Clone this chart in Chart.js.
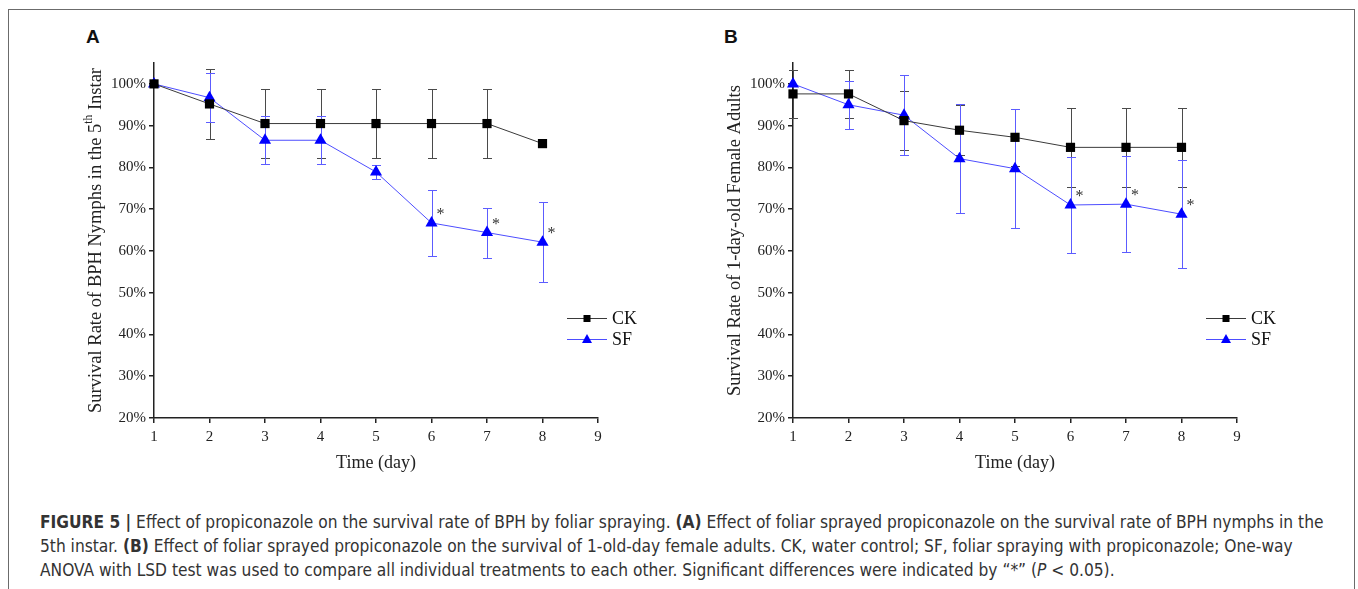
<!DOCTYPE html>
<html>
<head>
<meta charset="utf-8">
<script src="https://cdn.jsdelivr.net/npm/chart.js@4.4.1/dist/chart.umd.min.js"></script>
<style>
html, body { margin: 0; padding: 0; background: #fff; }
body { width: 1358px; height: 589px; position: relative; overflow: hidden; }
.frame { position: absolute; left: 8px; top: 9px; width: 1345px; height: 620px; border: 1.5px solid #6b6b6b; }
.panel { position: absolute; top: 0; width: 600px; height: 500px; }
.tag { position: absolute; top: 26px; font: bold 19px "Liberation Sans", Arial, sans-serif; color: #111; }
.caption { position: absolute; left: 40px; top: 510px; font-family: "DejaVu Sans Condensed", "Liberation Sans", sans-serif; font-size: 16px; line-height: 24px; color: #333; white-space: nowrap; }
.caption span { display: inline-block; }
</style>
</head>
<body>
<div class="frame"></div>
<div class="tag" style="left:86px">A</div>
<div class="tag" style="left:724px">B</div>
<div class="panel" style="left:40px"><canvas id="chartA" width="600" height="500"></canvas></div>
<div class="panel" style="left:680px"><canvas id="chartB" width="600" height="500"></canvas></div>
<div class="caption">
<span id="line1"><b>FIGURE 5 |</b> Effect of propiconazole on the survival rate of BPH by foliar spraying. <b>(A)</b> Effect of foliar sprayed propiconazole on the survival rate of BPH nymphs in the</span><br>
<span>5th instar. <b>(B)</b> Effect of foliar sprayed propiconazole on the survival of 1-old-day female adults. CK, water control; SF, foliar spraying with propiconazole; One-way</span><br>
<span>ANOVA with LSD test was used to compare all individual treatments to each other. Significant differences were indicated by “*” (<i>P</i> &lt; 0.05).</span>
</div>
<script>
// time points and axis ticks
const days = [1, 2, 3, 4, 5, 6, 7, 8];
const xTicks = [1, 2, 3, 4, 5, 6, 7, 8, 9];
const yTicks = [20, 30, 40, 50, 60, 70, 80, 90, 100];

// panel A: nymphs in the 5th instar (survival %, +/- error)
const ckA = [100, 95.2, 90.5, 90.5, 90.5, 90.5, 90.5, 85.7];
const ckAErr = [0, 8.3, 8.2, 8.2, 8.2, 8.2, 8.2, 0];
const sfA = [100, 96.7, 86.5, 86.5, 78.9, 66.7, 64.4, 62.1];
const sfAErr = [0, 5.9, 5.8, 5.8, 1.6, 7.9, 6.0, 9.6];
const sigA = [false, false, false, false, false, true, true, true];

// panel B: 1-day-old female adults
const ckB = [97.6, 97.6, 91.2, 88.9, 87.2, 84.8, 84.8, 84.8];
const ckBErr = [5.8, 5.8, 7.0, 6.0, 6.8, 9.4, 9.5, 9.5];
const sfB = [100, 95.0, 92.5, 82.1, 79.7, 71.0, 71.2, 68.8];
const sfBErr = [0, 5.8, 9.6, 13.0, 14.3, 11.6, 11.5, 13.0];
const sigB = [false, false, false, false, false, true, true, true];

const serif = '"Liberation Serif", "Times New Roman", serif';

// size the caption so its first line spans the figure width
(function() {
    var cap = document.querySelector('.caption');
    var w = document.getElementById('line1').getBoundingClientRect().width;
    cap.style.fontSize = (16 * 1285 / w) + 'px';
})();

// vertical error bars with caps, drawn under the lines
const errorBars = {
    id: 'errorBars',
    beforeDatasetsDraw(chart) {
        const ctx = chart.ctx, xs = chart.scales.x, ys = chart.scales.y;
        chart.data.datasets.forEach(function(ds) {
            ctx.save();
            ctx.strokeStyle = ds.errColor;
            ctx.lineWidth = 1;
            ds.data.forEach(function(p, i) {
                var e = ds.err[i];
                if (!e) return;
                var x = Math.round(xs.getPixelForValue(p.x)) + 0.5;
                var y1 = Math.round(ys.getPixelForValue(p.y + e)) + 0.5;
                var y2 = Math.round(ys.getPixelForValue(p.y - e)) + 0.5;
                ctx.beginPath();
                ctx.moveTo(x, y1); ctx.lineTo(x, y2);
                ctx.moveTo(x - 4.5, y1); ctx.lineTo(x + 4.5, y1);
                ctx.moveTo(x - 4.5, y2); ctx.lineTo(x + 4.5, y2);
                ctx.stroke();
            });
            ctx.restore();
        });
    }
};

// asterisks next to significant points
const stars = {
    id: 'stars',
    afterDatasetsDraw(chart) {
        const ctx = chart.ctx, xs = chart.scales.x, ys = chart.scales.y;
        chart.data.datasets.forEach(function(ds) {
            if (!ds.sig) return;
            ctx.save();
            ctx.fillStyle = '#333';
            ctx.font = '16px ' + serif;
            ctx.textAlign = 'left';
            ctx.textBaseline = 'middle';
            ds.data.forEach(function(p, i) {
                if (!ds.sig[i]) return;
                ctx.fillText('*', xs.getPixelForValue(p.x) + 5, ys.getPixelForValue(p.y) - 8);
            });
            ctx.restore();
        });
    }
};

// line + marker legend inside the plot
const sampleLegend = {
    id: 'sampleLegend',
    afterDraw(chart) {
        const ctx = chart.ctx, area = chart.chartArea;
        const x0 = area.left + 413;
        chart.data.datasets.forEach(function(ds, i) {
            var y = area.top + 255 + i * 21;
            ctx.save();
            ctx.strokeStyle = ds.borderColor;
            ctx.lineWidth = 1;
            ctx.beginPath();
            ctx.moveTo(x0, y + 0.5); ctx.lineTo(x0 + 40, y + 0.5);
            ctx.stroke();
            ctx.fillStyle = ds.pointBackgroundColor;
            var mx = x0 + 20;
            if (ds.pointStyle === 'rect') {
                ctx.fillRect(mx - 3.5, y - 3, 7, 7);
            } else {
                ctx.beginPath();
                ctx.moveTo(mx, y - 5);
                ctx.lineTo(mx + 5, y + 4);
                ctx.lineTo(mx - 5, y + 4);
                ctx.closePath();
                ctx.fill();
            }
            ctx.fillStyle = '#111';
            ctx.font = '18px ' + serif;
            ctx.textBaseline = 'middle';
            ctx.fillText(ds.label, x0 + 45, y + 1);
            ctx.restore();
        });
    }
};

// rotated y title with optional superscript part
const yTitle = {
    id: 'yTitle',
    afterDraw(chart, args, opts) {
        const ctx = chart.ctx, area = chart.chartArea;
        ctx.save();
        ctx.translate(opts.x, (area.top + area.bottom) / 2);
        ctx.rotate(-Math.PI / 2);
        ctx.fillStyle = '#222';
        ctx.textBaseline = 'middle';
        var total = 0;
        opts.parts.forEach(function(p) {
            ctx.font = (p.sup ? '11.5px ' : '18.5px ') + serif;
            total += ctx.measureText(p.t).width;
        });
        var x = -total / 2;
        opts.parts.forEach(function(p) {
            ctx.font = (p.sup ? '11.5px ' : '18.5px ') + serif;
            ctx.fillText(p.t, x, p.sup ? -6 : 1);
            x += ctx.measureText(p.t).width;
        });
        ctx.restore();
    }
};

function axisStyle() {
    return {
        grid: { display: true, drawOnChartArea: false, drawTicks: true, tickLength: 5, color: '#222', lineWidth: 1.5 },
        border: { display: true, color: '#222', width: 1.5 }
    };
}

function makeChart(id, ck, ckErr, sf, sfErr, sig, titleParts, yWidth, titleX) {
    var xAxis = Object.assign(axisStyle(), {
        type: 'linear', min: 1, max: 9,
        afterBuildTicks: function(s) { s.ticks = xTicks.map(function(v) { return { value: v }; }); },
        afterFit: function(s) { s.height = 82; },
        ticks: { color: '#222', padding: 5, font: { family: serif, size: 15 } },
        title: { display: true, text: 'Time (day)', color: '#222', font: { family: serif, size: 18 }, padding: { top: 0, bottom: 26 } }
    });
    var yAxis = Object.assign(axisStyle(), {
        min: 20, max: 105,
        afterBuildTicks: function(s) { s.ticks = yTicks.map(function(v) { return { value: v }; }); },
        afterFit: function(s) { s.width = yWidth; },
        ticks: { color: '#222', padding: 3, font: { family: serif, size: 15 }, callback: function(v) { return v + '%'; } }
    });
    return new Chart(document.getElementById(id), {
        type: 'line',
        data: {
            datasets: [{
                label: 'CK',
                data: days.map(function(d, i) { return { x: d, y: ck[i] }; }),
                err: ckErr,
                errColor: '#4a4a4a',
                borderColor: '#3a3a3a',
                borderWidth: 1,
                pointStyle: 'rect',
                pointRadius: 6.5,
                pointBackgroundColor: '#000',
                pointBorderWidth: 0,
                clip: false
            }, {
                label: 'SF',
                data: days.map(function(d, i) { return { x: d, y: sf[i] }; }),
                err: sfErr,
                sig: sig,
                errColor: '#5c5cff',
                borderColor: '#4d4dff',
                borderWidth: 1,
                pointStyle: 'triangle',
                pointRadius: 7,
                pointBackgroundColor: '#0000ff',
                pointBorderWidth: 0,
                clip: false
            }]
        },
        options: {
            responsive: false,
            animation: false,
            devicePixelRatio: 1,
            events: [],
            layout: { padding: { left: 0, right: 600 - yWidth - 444, top: 63, bottom: 0 } },
            scales: { x: xAxis, y: yAxis },
            plugins: {
                legend: { display: false },
                tooltip: { enabled: false },
                yTitle: { x: titleX, parts: titleParts }
            }
        },
        plugins: [errorBars, stars, sampleLegend, yTitle]
    });
}

makeChart('chartA', ckA, ckAErr, sfA, sfAErr, sigA,
    [{ t: 'Survival Rate of BPH Nymphs in the 5' }, { t: 'th', sup: true }, { t: ' Instar' }], 114, 55);
makeChart('chartB', ckB, ckBErr, sfB, sfBErr, sigB,
    [{ t: 'Survival Rate of 1-day-old Female Adults' }], 113, 54);
</script>
</body>
</html>
